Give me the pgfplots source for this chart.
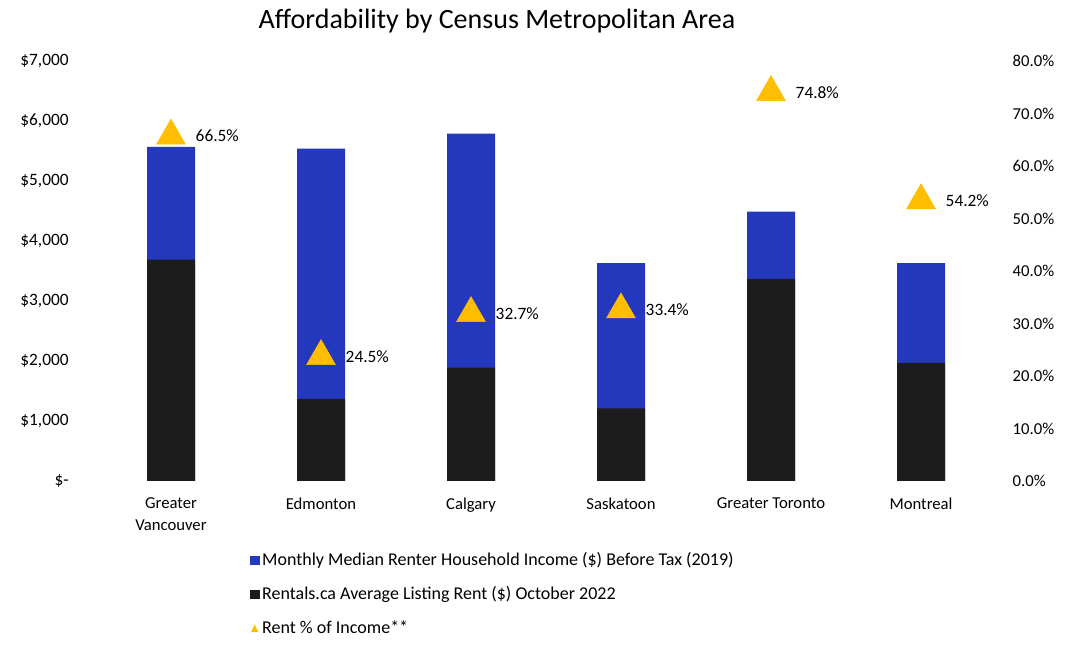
\documentclass[border=0pt]{standalone}
\usepackage{pgfplots}
\pgfplotsset{compat=1.18}
\usepackage{fontspec}
\setmainfont{Carlito}
\definecolor{barblue}{RGB}{36,56,190}
\definecolor{barblack}{RGB}{28,28,28}
\definecolor{tri}{RGB}{255,190,0}
\pgfplotstableread{
x inc rent
0 5570 3690
1 5540 1370
2 5790 1890
3 3630 1210
4 4490 3370
5 3630 1970
}\bars
\pgfplotstableread{
x pct label
0 66.5 66.5\%
1 24.5 24.5\%
2 32.7 32.7\%
3 33.4 33.4\%
4 74.8 74.8\%
5 54.2 54.2\%
}\pcts
\begin{document}
\begin{tikzpicture}
\path[use as bounding box] (0,0) rectangle (801pt,484.5pt);
\node[font=\fontsize{21}{24}\selectfont] at (372.75pt,469pt) {Affordability by Census Metropolitan Area};
\begin{axis}[
  at={(72pt,123.75pt)}, anchor=south west,
  scale only axis, width=675pt, height=315pt,
  xmin=-0.5, xmax=5.5, ymin=0, ymax=7000,
  axis y line*=left, axis x line*=bottom,
  axis line style={draw=none}, major tick length=0pt,
  xtick={0,...,5},
  xticklabels={{Greater\\Vancouver},Edmonton,Calgary,Saskatoon,Greater Toronto,Montreal},
  xticklabel style={align=center, font=\fontsize{12.5}{16.5}\selectfont, yshift=-9pt},
  ytick={0,1000,...,7000},
  yticklabels={{\$-},{\$1,000},{\$2,000},{\$3,000},{\$4,000},{\$5,000},{\$6,000},{\$7,000}},
  yticklabel style={font=\fontsize{13}{15}\selectfont, xshift=-17pt},
  legend style={at={(0.171,-0.164)}, anchor=north west, draw=none, fill=none,
    font=\fontsize{13.5}{16}\selectfont, row sep=10pt, inner sep=0pt},
  legend cell align=left,
  legend image code/.code={\fill[#1] (0pt,-3.6pt) rectangle (7pt,3.4pt);},
]
\addplot[ybar, bar width=36pt, bar shift=0pt, fill=barblue, draw=none] table[x=x,y=inc] {\bars};
\addlegendentry{Monthly Median Renter Household Income (\$) Before Tax (2019)}
\addplot[ybar, bar width=36pt, bar shift=0pt, fill=barblack, draw=none] table[x=x,y=rent] {\bars};
\addlegendentry{Rentals.ca Average Listing Rent (\$) October 2022}
\addlegendimage{legend image code/.code={\fill[tri] (1pt,-3pt) -- (5.8pt,-3pt) -- (3.4pt,2pt) -- cycle;}}
\addlegendentry{Rent \% of Income**}
\end{axis}
\begin{axis}[
  at={(72pt,123.75pt)}, anchor=south west,
  scale only axis, width=675pt, height=315pt,
  xmin=-0.5, xmax=5.5, ymin=0, ymax=80,
  axis y line*=right, axis x line=none,
  axis line style={draw=none}, major tick length=0pt,
  ytick={0,10,...,80},
  yticklabels={0.0\%,10.0\%,20.0\%,30.0\%,40.0\%,50.0\%,60.0\%,70.0\%,80.0\%},
  yticklabel style={font=\fontsize{12.5}{14}\selectfont, xshift=9pt},
]
\addplot[only marks, mark=triangle*, mark size=12.5pt, color=tri,
  mark options={yshift=-3pt},
  point meta=explicit symbolic,
  nodes near coords,
  nodes near coords style={anchor=west, xshift=15pt, yshift=0pt, text=black, font=\fontsize{13}{15}\selectfont}]
  table[x=x,y=pct,meta=label] {\pcts};
\end{axis}
\end{tikzpicture}
\end{document}
